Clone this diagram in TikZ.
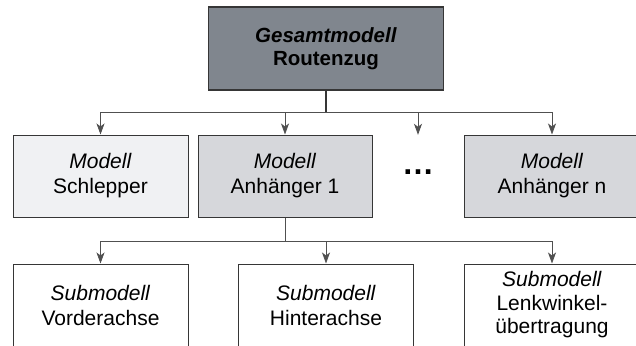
\documentclass[tikz,border=0pt]{standalone}
\usepackage{fontspec}
\setmainfont{Liberation Sans}
\usetikzlibrary{arrows.meta}
\definecolor{gesamtgrau}{HTML}{80868E}
\definecolor{hellgrau}{HTML}{F0F1F3}
\definecolor{mittelgrau}{HTML}{D6D7DB}
\definecolor{rahmen}{HTML}{363636}
\definecolor{linie}{HTML}{505050}

\begin{document}
\begin{tikzpicture}[x=1pt,y=1pt,
  modell/.style={draw=rahmen, line width=1pt, minimum width=175pt, minimum height=82pt,
    inner sep=0pt, align=center, font=\fontsize{21}{25}\selectfont},
  verbindung/.style={draw=linie, line width=0.8pt, -{Stealth[length=11pt,width=8pt,inset=3pt]}},
  stamm/.style={draw=linie, line width=0.8pt},
]
\useasboundingbox (0,0) rectangle (636,-345);
\clip (0,0) rectangle (636,-345);

\node[modell, fill=gesamtgrau, line width=1.6pt, minimum width=235pt, minimum height=83pt,
  font=\bfseries\fontsize{20.5}{23}\selectfont] (gesamt) at (326,-48.5) {\textit{Gesamtmodell}\\Routenzug};

\node[modell, fill=hellgrau] (schlepper) at (100.5,-176) {\textit{Modell}\\Schlepper};
\node[modell, fill=mittelgrau, minimum width=174pt] (anh1) at (285,-176) {\textit{Modell}\\Anhänger 1};
\node[minimum height=75pt, inner sep=0pt, font=\bfseries\fontsize{32}{32}\selectfont] (punkte) at (418,-172.5) {…};
\node[modell, fill=mittelgrau, minimum width=176pt] (anhn) at (552,-176) {\textit{Modell}\\Anhänger n};

\node[modell] (vorder) at (100.5,-305) {\textit{Submodell}\\Vorderachse};
\node[modell] (hinter) at (326,-305) {\textit{Submodell}\\Hinterachse};
\node[modell, font=\fontsize{21}{23.5}\selectfont] (lenk) at (552,-305) {\textit{Submodell}\\Lenkwinkel-\\übertragung};

\coordinate (bus1) at (326,-112);
\coordinate (bus2) at (285,-241);

\draw[stamm, draw=rahmen, line width=1.6pt] (gesamt.south) -- (bus1);
\draw[verbindung] (bus1) -| (schlepper.north);
\draw[verbindung] (bus1) -| (anh1.north);
\draw[verbindung] (bus1) -| (punkte.north);
\draw[verbindung] (bus1) -| (anhn.north);

\draw[stamm] (anh1.south) -- (bus2);
\draw[verbindung] (bus2) -| (vorder.north);
\draw[verbindung] (bus2) -| (hinter.north);
\draw[verbindung] (bus2) -| (lenk.north);
\end{tikzpicture}
\end{document}
